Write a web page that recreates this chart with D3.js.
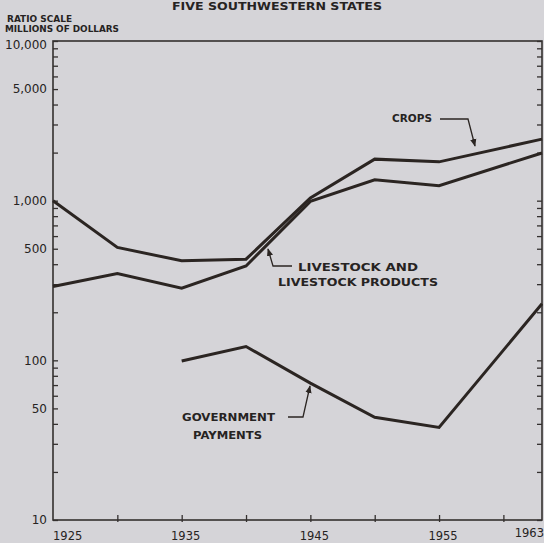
<!DOCTYPE html>
<html>
<head>
<meta charset="utf-8">
<script src="https://cdn.jsdelivr.net/npm/d3@7/dist/d3.min.js"></script>
<style>
  html, body { margin: 0; padding: 0; background: #d5d4d8; }
  svg { display: block; }
  text { font-family: "DejaVu Sans", sans-serif; fill: #262322; }
</style>
</head>
<body>
<svg id="chart" width="544" height="543"></svg>
<script>
// ---- data ----
const years      = [1925, 1930, 1935, 1940, 1945, 1950, 1955, 1963];
const crops      = [1000, 510, 420, 430, 1040, 1820, 1750, 2430];
const livestock  = [290, 350, 283, 390, 990, 1350, 1240, 1990];
const govYears   = [1935, 1940, 1945, 1950, 1955, 1963];
const government = [99, 122, 72, 44, 38, 226];

const xTickYears  = [1930, 1935, 1940, 1945, 1950, 1955, 1960];
const xLabelYears = [1925, 1935, 1945, 1955, 1963];
const yLabelVals  = [10, 50, 100, 500, 1000, 5000, 10000];

// ---- layout ----
const svg = d3.select("#chart");
const x = d3.scaleLinear().domain([1925, 1963]).range([53, 542]);
const y = d3.scaleLog().domain([10, 10000]).range([520, 41]);

const yTickVals = [];
[10, 100, 1000].forEach(d => { for (let k = 1; k <= 9; k++) yTickVals.push(d * k); });
yTickVals.push(10000);

const ink = "#2b2522";

// frame
svg.append("rect")
  .attr("x", x(1925)).attr("y", y(10000))
  .attr("width", x(1963) - x(1925)).attr("height", y(10) - y(10000))
  .attr("fill", "none").attr("stroke", "#34302f").attr("stroke-width", 1.6);

// left axis
const fmt = d3.format(",");
const leftAxis = d3.axisLeft(y).tickValues(yTickVals).tickSizeInner(-5).tickSizeOuter(0)
  .tickPadding(6)
  .tickFormat(d => yLabelVals.includes(d) ? fmt(d) : "");
const gl = svg.append("g").attr("transform", `translate(${x(1925)},0)`).call(leftAxis);
gl.select(".domain").remove();
gl.selectAll("line").attr("stroke", "#34302f").attr("stroke-width", 1.3);
gl.selectAll("text").style("font-size", "12px").attr("fill", "#262322")
  .attr("dy", d => d === 10000 ? "0.6em" : "0.32em");

// right axis
const rightAxis = d3.axisRight(y).tickValues(yTickVals).tickSizeInner(-5).tickSizeOuter(0).tickFormat("");
const gr = svg.append("g").attr("transform", `translate(${x(1963)},0)`).call(rightAxis);
gr.select(".domain").remove();
gr.selectAll("line").attr("stroke", "#34302f").attr("stroke-width", 1.3);

// bottom ticks
const bottomAxis = d3.axisBottom(x).tickValues(xTickYears).tickSizeInner(-5).tickSizeOuter(0).tickFormat("");
const gb = svg.append("g").attr("transform", `translate(0,${y(10)})`).call(bottomAxis);
gb.select(".domain").remove();
gb.selectAll("line").attr("stroke", "#34302f").attr("stroke-width", 1.3).attr("y2", -5).attr("y1", 2);

// bottom labels
svg.append("g").selectAll("text").data(xLabelYears).join("text")
  .attr("x", (d, i) => i === 0 ? x(d) : (i === xLabelYears.length - 1 ? x(d) + 2 : x(d) + 4))
  .attr("y", (d, i) => i === xLabelYears.length - 1 ? 537 : 540)
  .attr("text-anchor", (d, i) => i === 0 ? "start" : (i === xLabelYears.length - 1 ? "end" : "middle"))
  .style("font-size", "11.5px")
  .text(d => d);

// series lines
const line = d3.line().x(d => x(d[0])).y(d => y(d[1]));
const series = [
  years.map((yr, i) => [yr, crops[i]]),
  years.map((yr, i) => [yr, livestock[i]]),
  govYears.map((yr, i) => [yr, government[i]])
];
svg.append("g").selectAll("path").data(series).join("path")
  .attr("d", line)
  .attr("fill", "none")
  .attr("stroke", ink)
  .attr("stroke-width", 3)
  .attr("stroke-linejoin", "miter");

// arrow marker
svg.append("defs").append("marker")
  .attr("id", "arr").attr("viewBox", "0 0 10 10")
  .attr("refX", 9).attr("refY", 5)
  .attr("markerWidth", 6).attr("markerHeight", 6)
  .attr("orient", "auto")
  .append("path").attr("d", "M0,1 L10,5 L0,9 Z").attr("fill", ink);

function leader(points) {
  svg.append("path")
    .attr("d", d3.line()(points))
    .attr("fill", "none").attr("stroke", ink).attr("stroke-width", 1.3)
    .attr("marker-end", "url(#arr)");
}

function label(txt, px, py, len, size, weight) {
  svg.append("text")
    .attr("x", px).attr("y", py)
    .attr("textLength", len).attr("lengthAdjust", "spacingAndGlyphs")
    .style("font-size", size + "px")
    .style("font-weight", weight || "bold")
    .text(txt);
}

// title and axis caption
label("FIVE SOUTHWESTERN STATES", 172, 10, 210, 10.5, "bold");
label("RATIO SCALE", 7, 22, 65, 8.5, "bold");
label("MILLIONS OF DOLLARS", 5, 32, 114, 8.5, "bold");

// annotations
label("CROPS", 392, 122, 40, 10.5);
leader([[440, 119], [468, 119], [475, 146]]);

label("LIVESTOCK AND", 298, 271, 120, 10.5);
label("LIVESTOCK PRODUCTS", 278, 286, 160, 10.5);
leader([[292, 266], [273, 266], [268, 249]]);

label("GOVERNMENT", 182, 421, 93, 10.5);
label("PAYMENTS", 193, 439, 69, 10.5);
leader([[288, 417], [303, 417], [310, 386]]);
</script>
</body>
</html>
